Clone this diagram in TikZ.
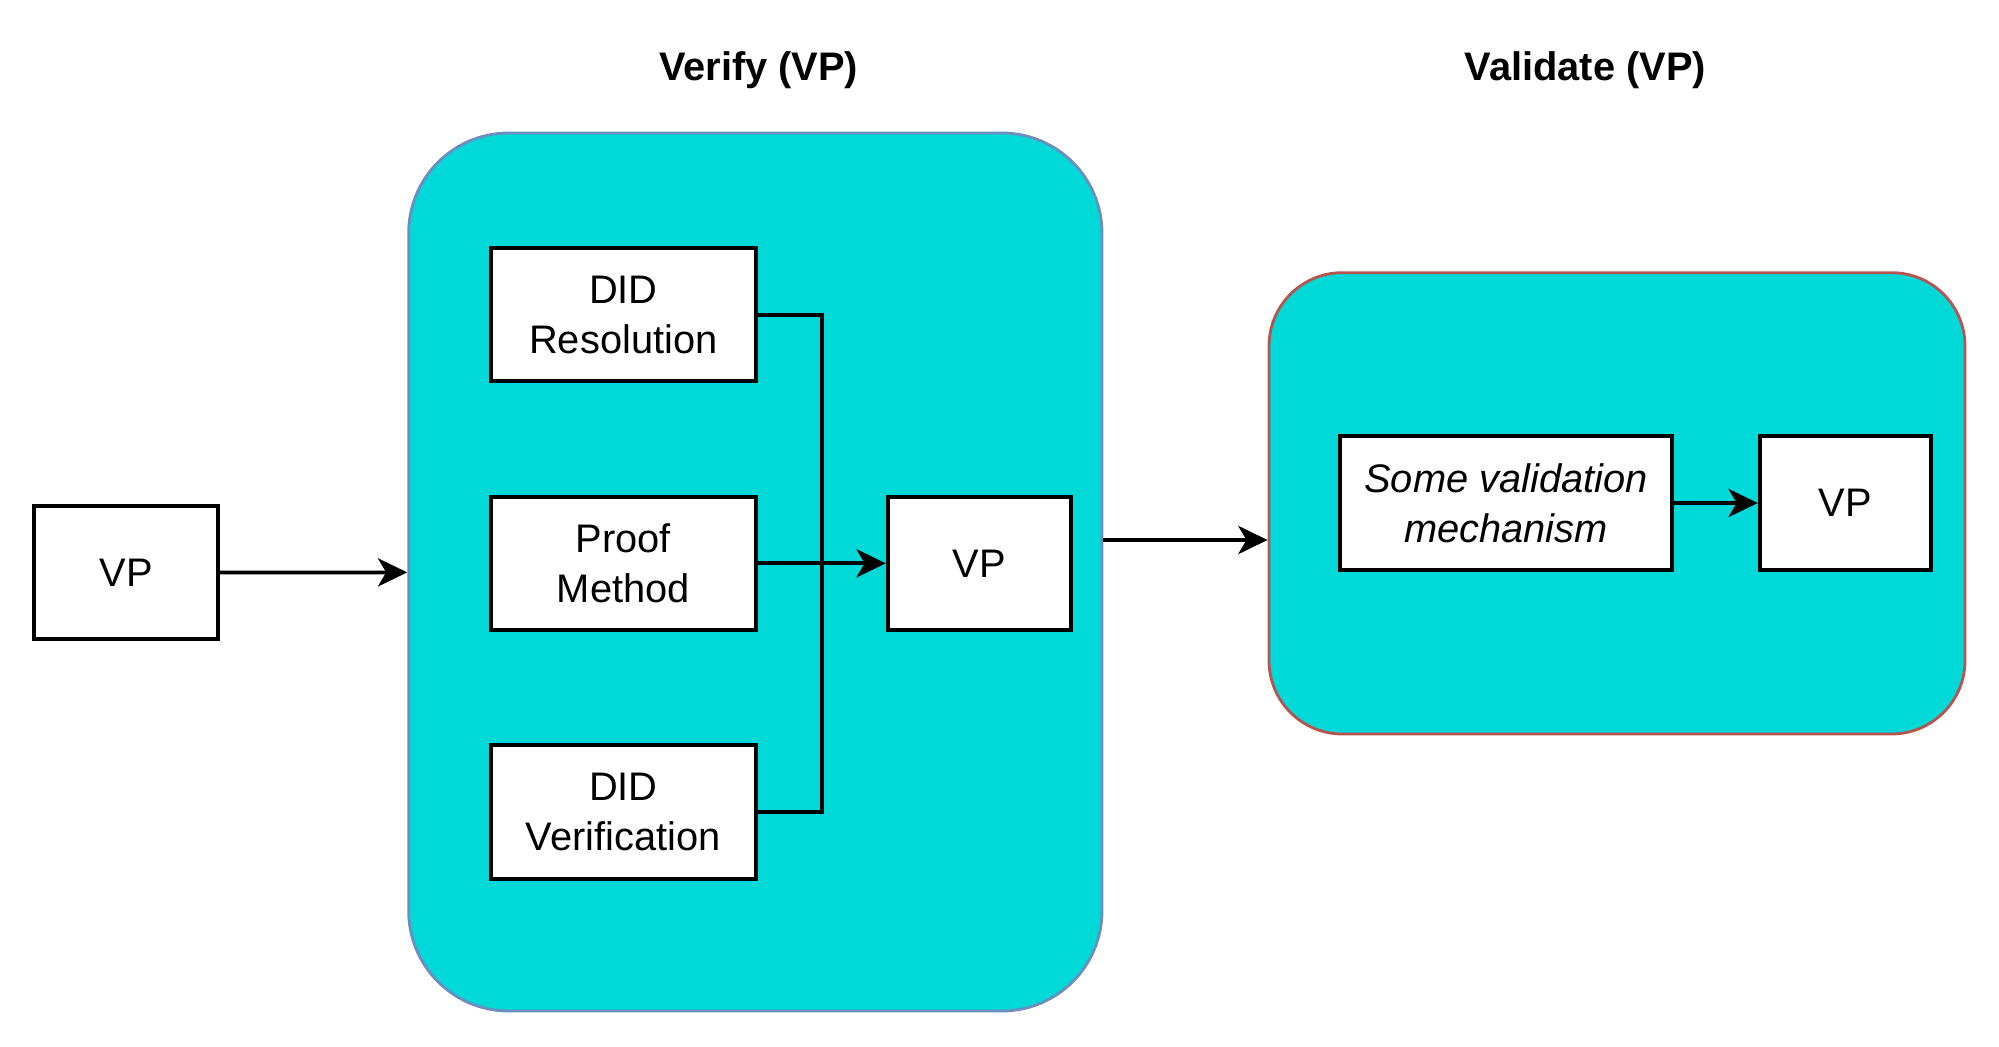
\documentclass[tikz,border=0pt]{standalone}
\usepackage{fontspec}
\setmainfont{Liberation Sans}
\usepackage{tikz}
\usetikzlibrary{arrows.meta, positioning}

\definecolor{boxfill}{HTML}{00D9D8}
\definecolor{verifyline}{HTML}{6C8EBF}
\definecolor{validline}{HTML}{B85450}

\begin{document}
\begin{tikzpicture}[>={Stealth[length=12.5pt,width=12pt,inset=3.5pt]},
    node distance=3.73cm, on grid,
    every node/.style={font=\fontsize{17}{21.3}\selectfont},
    box/.style={draw, line width=1.6pt, fill=white, align=center,
        minimum width=3.98cm, minimum height=2cm, inner sep=2pt},
    stage/.style={draw, line width=1.2pt, fill=boxfill},
    title/.style={font=\fontsize{17}{21.3}\selectfont\bfseries}]
   \useasboundingbox (0,0) rectangle (29.985,15.69);

   % the two stages
   \node[stage, rounded corners=1.5cm, draw=verifyline,
         minimum width=10.4cm, minimum height=13.17cm] (verify) at (11.33,7.11) {};
   \node[stage, rounded corners=1.1cm, draw=validline,
         minimum width=10.44cm, minimum height=6.92cm] (validate) at (24.255,8.14) {};
   \node[title] (verifyt) at (11.38,14.64) {Verify (VP)};
   \node[title] (validt) at (23.78,14.64) {Validate (VP)};

   % verify
   \node[box, minimum width=2.76cm] (vpin) at (1.89,7.10) {VP};
   \node[box] (proof) at (9.35,7.24) {Proof\\Method};
   \node[box] (res) [above=of proof] {DID\\Resolution};
   \node[box] (didver) [below=of proof] {DID\\Verification};
   \node[box, minimum width=2.75cm] (vpmid) [right=5.34cm of proof] {VP};
   \coordinate (join) at (12.33,7.24);

   % validate
   \node[box, minimum width=4.98cm] (mech) at (22.59,8.145) {\itshape Some validation\\\itshape mechanism};
   \node[box, minimum width=2.57cm] (vpout) [right=5.09cm of mech] {VP};

   \draw[line width=1.6pt] (res.east) -| (join);
   \draw[line width=1.6pt] (didver.east) -| (join);

   \path[->, line width=1.6pt]
    (vpin) edge (verify)
    (proof) edge (vpmid)
    ([yshift=0.48cm]verify.east) edge ([yshift=0.48cm]verify.east -| validate.west)
    (mech) edge (vpout);
\end{tikzpicture}
\end{document}
